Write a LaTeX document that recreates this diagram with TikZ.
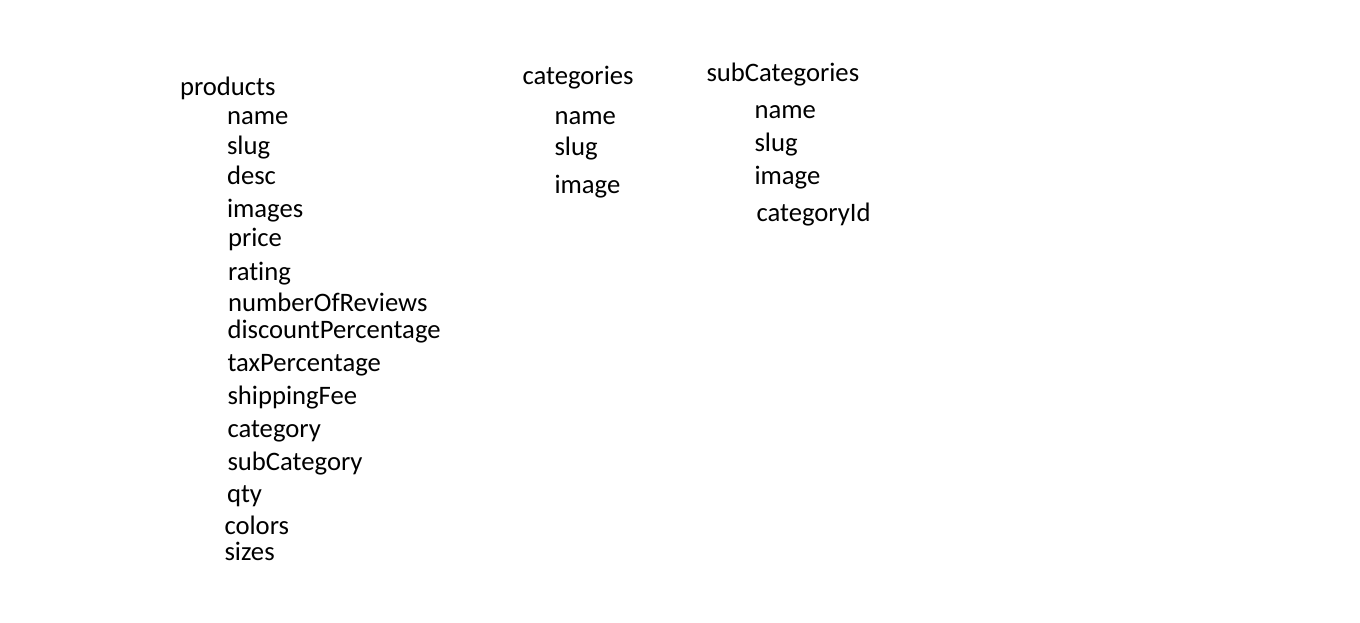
\documentclass[tikz,border=0pt]{standalone}
\usepackage{fontspec}
\setmainfont[Ligatures=NoCommon]{Carlito}
\begin{document}
\begin{tikzpicture}[x=1pt,y=-1pt,
  lbl/.style={anchor=base west,inner sep=0pt,outer sep=0pt,font=\fontsize{26.67}{30}\selectfont,text=black}]
\useasboundingbox[fill=white] (0,0) rectangle (1360,623);
\begin{scope}[yshift=-1pt]
% products
\node[lbl] (products) at (180,95) {products};
\node[lbl] (pname) at (227,123.3) {name};
\node[lbl] (pslug) at (227,153.3) {slug};
\node[lbl] (pdesc) at (227,183.3) {desc};
\node[lbl] (pimages) at (227,216.7) {images};
\node[lbl] (pprice) at (228,245) {price};
\node[lbl] (prating) at (228,279.3) {rating};
\node[lbl] (pnum) at (228,310.7) {numberOfReviews};
\node[lbl] (pdisc) at (227.5,337.3) {discountPercentage};
\node[lbl] (ptax) at (227.5,370.7) {taxPercentage};
\node[lbl] (pship) at (227.5,403.3) {shippingFee};
\node[lbl] (pcat) at (227.5,436.7) {category};
\node[lbl] (psub) at (227.5,469.3) {subCategory};
\node[lbl] (pqty) at (227,501.7) {qty};
\node[lbl] (pcolors) at (224.5,533.3) {colors};
\node[lbl] (psizes) at (224.5,559.3) {sizes};
% categories
\node[lbl] (categories) at (522.5,83.3) {categories};
\node[lbl] (cname) at (554.5,124) {name};
\node[lbl] (cslug) at (554.5,155) {slug};
\node[lbl] (cimage) at (554.5,192.3) {image};
% subCategories
\node[lbl] (subcategories) at (706.5,81) {subCategories};
\node[lbl] (sname) at (754.5,117.7) {name};
\node[lbl] (sslug) at (754.5,150) {slug};
\node[lbl] (simage) at (754.5,183.3) {image};
\node[lbl] (scatid) at (756.5,220) {categoryId};
\end{scope}
\end{tikzpicture}
\end{document}
